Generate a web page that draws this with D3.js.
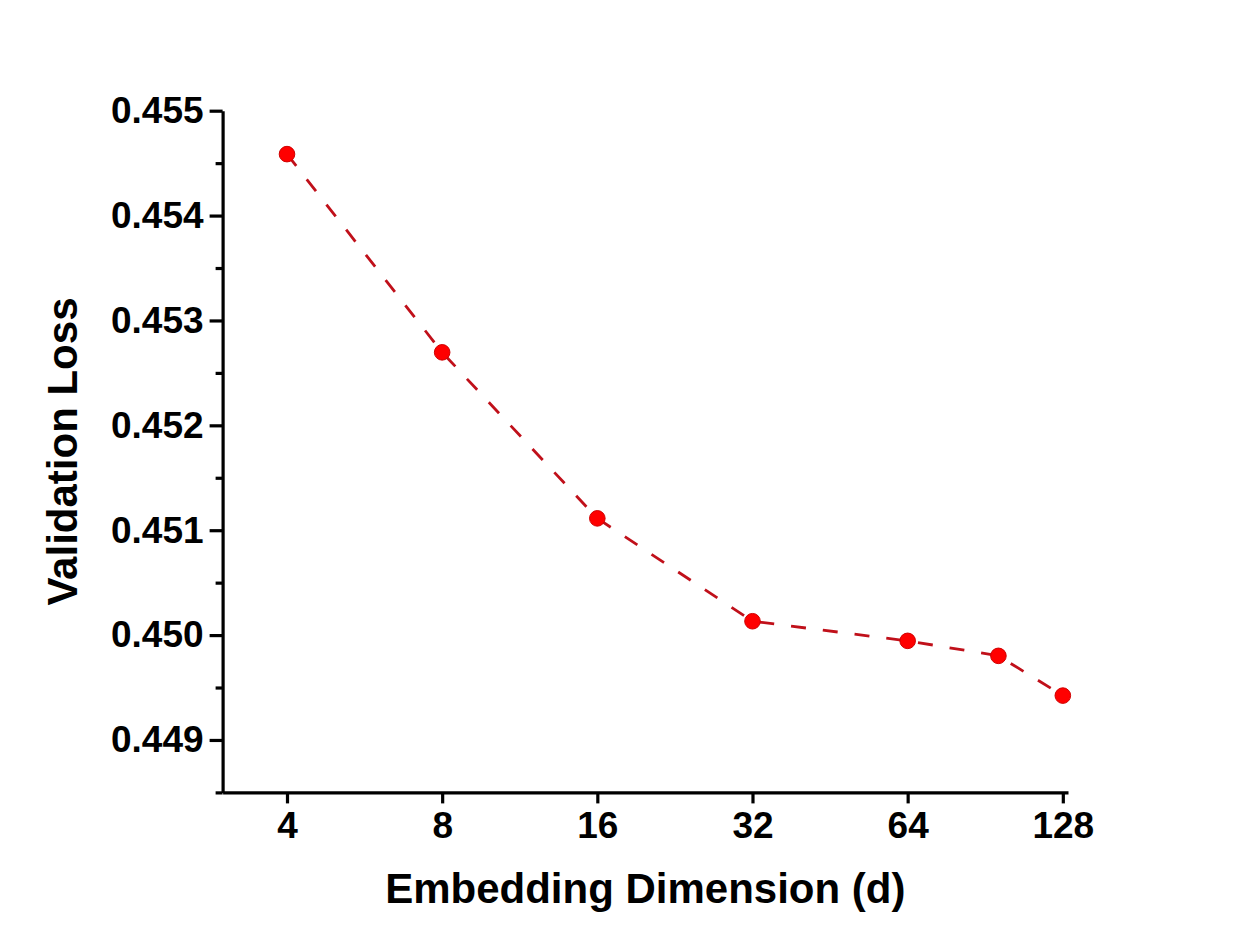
<!DOCTYPE html>
<html>
<head>
<meta charset="utf-8">
<script src="https://cdn.jsdelivr.net/npm/d3@7/dist/d3.min.js"></script>
<style>
  body { margin: 0; background: #fff; }
  svg text { font-family: "Liberation Sans", Arial, sans-serif; font-weight: bold; fill: #000; }
</style>
</head>
<body>
<div id="chart"></div>
<script>
'use strict';

// embedding dimension vs validation loss
const dims = [4, 8, 16, 32, 64, 96, 128];
const losses = [0.454586, 0.452696, 0.451113, 0.450132, 0.449945, 0.449802, 0.449423];

const xTicks = [4, 8, 16, 32, 64, 128];
const yMajor = [0.449, 0.450, 0.451, 0.452, 0.453, 0.454, 0.455];
const yMinor = [0.4485, 0.4495, 0.4505, 0.4515, 0.4525, 0.4535, 0.4545];

const xTitle = "Embedding Dimension (d)";
const yTitle = "Validation Loss";

let width = 1245, height = 952;
let margin = {top: 110.7, right: 177, bottom: 159.6, left: 222.6};

let svg = d3.select("#chart").append("svg")
    .attr("width", width)
    .attr("height", height);

let x = d3.scaleLog().base(2)
    .domain([3, 131])
    .range([margin.left, width - margin.right]);

let y = d3.scaleLinear()
    .domain([0.4485, 0.455])
    .range([height - margin.bottom, margin.top]);

// minor y ticks first so the major ones sit on top
svg.append("g")
    .attr("class", "y-minor")
    .attr("transform", `translate(${margin.left},0)`)
    .call(d3.axisLeft(y).tickValues(yMinor).tickSize(7).tickSizeOuter(0).tickFormat(""))
    .call(g => g.select(".domain").remove());

let yAxis = svg.append("g")
    .attr("class", "y-axis")
    .attr("transform", `translate(${margin.left},0)`)
    .call(d3.axisLeft(y).tickValues(yMajor).tickSize(13).tickSizeOuter(0).tickPadding(6)
        .tickFormat(d3.format(".3f")));

let xAxis = svg.append("g")
    .attr("class", "x-axis")
    .attr("transform", `translate(0,${height - margin.bottom})`)
    .call(d3.axisBottom(x).tickValues(xTicks).tickSize(11).tickSizeOuter(0).tickPadding(8)
        .tickFormat(d3.format("d")));

svg.selectAll(".y-axis path, .x-axis path, .y-axis line, .x-axis line, .y-minor line")
    .attr("stroke", "#000")
    .attr("stroke-width", 3.2);

svg.selectAll(".y-axis text, .x-axis text")
    .style("font-size", "37px");

// axis titles
svg.append("text")
    .attr("x", (margin.left + width - margin.right) / 2)
    .attr("y", 903)
    .attr("text-anchor", "middle")
    .style("font-size", "42px")
    .text(xTitle);

svg.append("text")
    .attr("transform", `translate(77,${(margin.top + height - margin.bottom) / 2}) rotate(-90)`)
    .attr("text-anchor", "middle")
    .style("font-size", "42px")
    .text(yTitle);

let pts = dims.map((d, i) => [d, losses[i]]);

let line = d3.line()
    .x(d => x(d[0]))
    .y(d => y(d[1]));

svg.append("path")
    .datum(pts)
    .attr("fill", "none")
    .attr("stroke", "#c0101a")
    .attr("stroke-width", 2.8)
    .attr("stroke-dasharray", "15,17")
    .attr("d", line);

svg.append("g")
    .selectAll("circle")
    .data(pts)
    .enter().append("circle")
    .attr("cx", d => x(d[0]))
    .attr("cy", d => y(d[1]))
    .attr("r", 7.8)
    .attr("fill", "#ff0000")
    .attr("stroke", "#d00000")
    .attr("stroke-width", 1);
</script>
</body>
</html>
